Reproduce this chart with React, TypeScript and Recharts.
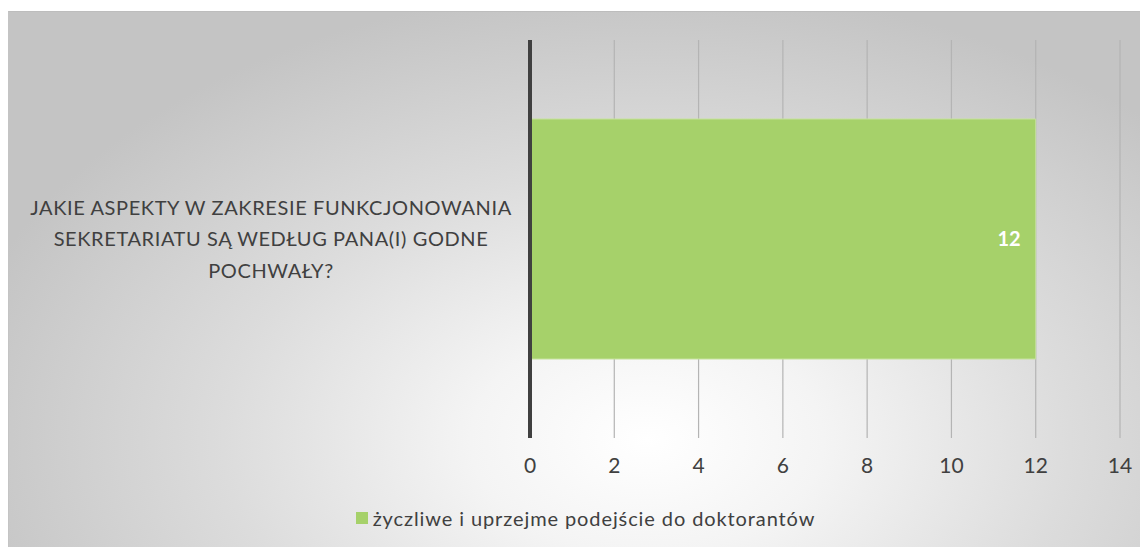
import React from "react";
import { BarChart, Bar, XAxis, YAxis, CartesianGrid, LabelList, Legend } from "recharts";

const categories = ["JAKIE ASPEKTY W ZAKRESIE FUNKCJONOWANIA SEKRETARIATU SĄ WEDŁUG PANA(I) GODNE POCHWAŁY?"];
const categoryLines = [
  ["JAKIE ASPEKTY W ZAKRESIE FUNKCJONOWANIA", "SEKRETARIATU SĄ WEDŁUG PANA(I) GODNE", "POCHWAŁY?"],
];
const seriesName = "życzliwe i uprzejme podejście do doktorantów";
const seriesValues = [12];
const xTicks = [0, 2, 4, 6, 8, 10, 12, 14];

const data = categories.map((c, i) => ({ name: c, value: seriesValues[i] }));

const FONT = "Lato, 'Open Sans', sans-serif";
const GREEN = "#a6d16a";

function CategoryTick({ y, index }: any) {
  const lines = categoryLines[index] || [];
  const lh = 31.5;
  const start = y - ((lines.length - 1) * lh) / 2;
  return (
    <g>
      {lines.map((l, i) => (
        <text
          key={i}
          x={262}
          y={start + i * lh}
          dy="0.35em"
          textAnchor="middle"
          fontSize={20}
          letterSpacing={0.6}
          fill="#404040"
          fontFamily={FONT}
        >
          {l}
        </text>
      ))}
    </g>
  );
}

function LegendContent() {
  return (
    <div
      style={{
        height: 30,
        display: "flex",
        alignItems: "center",
        justifyContent: "center",
        fontFamily: FONT,
        fontSize: 20,
        letterSpacing: 0.9,
        color: "#404040",
        paddingLeft: 42,
      }}
    >
      <span style={{ width: 12, height: 12, background: GREEN, marginRight: 5, display: "inline-block" }} />
      {seriesName}
    </div>
  );
}

export default function App() {
  return (
    <div
      style={{
        marginTop: 3,
        width: 1140,
        height: 536,
        borderTop: "1px solid #bdbdbd",
        borderLeft: "1px solid #c4c4c4",
        boxSizing: "border-box",
        background: "radial-gradient(ellipse 62% 85% at 56% 80%, #ffffff 0%, #f4f4f4 25%, #dcdcdc 60%, #c4c4c4 100%)",
      }}
    >
      <BarChart
        width={1139}
        height={535}
        data={data}
        layout="vertical"
        margin={{ top: 28, right: 28, left: 0, bottom: 14 }}
      >
        <CartesianGrid horizontal={false} stroke="#b4b4b4" strokeWidth={1.2} />
        <XAxis
          type="number"
          domain={[0, 14]}
          ticks={xTicks}
          axisLine={false}
          tickLine={false}
          tickSize={0}
          tickMargin={20}
          height={65}
          tick={{ fontSize: 21, fill: "#404040", fontFamily: FONT }}
        />
        <YAxis
          type="category"
          dataKey="name"
          width={521}
          axisLine={{ stroke: "#404040", strokeWidth: 4 }}
          tickLine={false}
          tick={<CategoryTick />}
        />
        <Legend verticalAlign="bottom" content={<LegendContent />} />
        <Bar dataKey="value" name={seriesName} fill={GREEN} stroke="#c6e29c" strokeWidth={1} barSize={240} isAnimationActive={false}>
          <LabelList
            dataKey="value"
            position="insideRight"
            offset={15}
            fill="#ffffff"
            fontSize={20}
            fontWeight="bold"
            fontFamily={FONT}
          />
        </Bar>
      </BarChart>
    </div>
  );
}
